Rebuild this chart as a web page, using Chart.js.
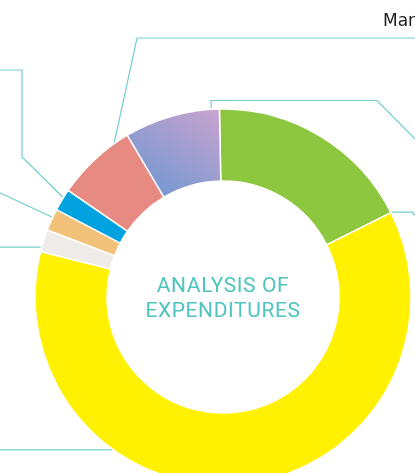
<!DOCTYPE html>
<html>
<head>
<meta charset="utf-8">
<script src="https://cdn.jsdelivr.net/npm/chart.js@4.4.7/dist/chart.umd.min.js"></script>
<style>
  html, body { margin: 0; padding: 0; background: #fff; overflow: hidden; }
  #wrap { position: relative; width: 415px; height: 473px; overflow: hidden; }
</style>
</head>
<body>
<div id="wrap"><canvas id="chart" width="415" height="473"></canvas></div>
<script>
const categories = ['Production', 'Operations', 'Other', 'Utilities', 'Logistics', 'Marketing', 'R&D'];
const values = [17.9, 61.3, 1.9, 1.9, 1.9, 6.9, 8.2];
const colors = ['#8dc63f', '#fff100', '#eeebe8', '#f2c27b', '#00a3df', '#e68a82', '#a79bcf'];
const centerLines = ['ANALYSIS OF', 'EXPENDITURES'];
const calloutText = 'Marketing';

// leader lines: segment index, position along the arc, then the elbow points
// (null = reuse the anchor coordinate)
const leaders = [
  { index: 5, t: 0.82, pts: [[137, 38], [420, 38]] },
  { index: 4, t: 0.62, pts: [[22, 157], [22, 70], [-2, 70]] },
  { index: 3, t: 0.61, pts: [[-2, 192]] },
  { index: 2, t: 0.19, pts: [[-2, null]] },
  { index: 1, t: 0.692, pts: [[-2, null]] },
  { index: 6, t: 0.915, pts: [[null, 100.5], [377, 100.5], [418, 142]] },
  { index: 0, t: 1.0, pts: [[412, null], [420, 220]] }
];

function purpleFill(c) {
  if (c.dataIndex !== 6) return colors[c.dataIndex];
  const area = c.chart.chartArea;
  if (!area) return colors[6];
  const cx = (area.left + area.right) / 2, cy = (area.top + area.bottom) / 2;
  const a1 = -Math.PI / 2 - 0.05, a2 = -Math.PI / 2 - 0.68;
  const g = c.chart.ctx.createLinearGradient(
    cx + Math.cos(a1) * 188, cy + Math.sin(a1) * 188,
    cx + Math.cos(a2) * 118, cy + Math.sin(a2) * 118);
  g.addColorStop(0, '#c6a3ce');
  g.addColorStop(1, '#6c97d2');
  return g;
}

const decorations = {
  id: 'decorations',
  afterDatasetsDraw(chart) {
    const ctx = chart.ctx;
    const meta = chart.getDatasetMeta(0);
    ctx.save();
    ctx.strokeStyle = '#72cfcb';
    ctx.lineWidth = 1.2;
    leaders.forEach(l => {
      const arc = meta.data[l.index];
      const p = arc.getProps(['x', 'y', 'startAngle', 'endAngle', 'outerRadius'], true);
      const a = p.startAngle + (p.endAngle - p.startAngle) * l.t;
      const r = p.outerRadius + 1;
      const ax = p.x + Math.cos(a) * r, ay = p.y + Math.sin(a) * r;
      ctx.beginPath();
      ctx.moveTo(ax, ay);
      l.pts.forEach(([px, py]) => ctx.lineTo(px === null ? ax : px, py === null ? ay : py));
      ctx.stroke();
    });

    const area = chart.chartArea;
    const cx = (area.left + area.right) / 2, cy = (area.top + area.bottom) / 2;
    ctx.fillStyle = '#4fc4bf';
    ctx.font = '21px Roboto';
    ctx.letterSpacing = '0.6px';
    ctx.textAlign = 'center';
    ctx.textBaseline = 'alphabetic';
    ctx.fillText(centerLines[0], cx, cy - 5.3);
    ctx.fillText(centerLines[1], cx, cy + 19.7);

    ctx.letterSpacing = '0px';
    ctx.fillStyle = '#1d1d1d';
    ctx.font = '17px "DejaVu Sans"';
    ctx.textAlign = 'left';
    ctx.fillText(calloutText, 383, 26);
    ctx.restore();
  }
};

new Chart(document.getElementById('chart'), {
  type: 'doughnut',
  data: {
    labels: categories,
    datasets: [{
      data: values,
      backgroundColor: purpleFill,
      borderColor: '#ffffff',
      borderWidth: 1.5,
      clip: false
    }]
  },
  options: {
    responsive: false,
    animation: false,
    rotation: -1.1,
    radius: 188,
    cutout: '61.7%',
    layout: { padding: { left: 31, right: 0, top: 121, bottom: 0 } },
    plugins: { legend: { display: false }, tooltip: { enabled: false } }
  },
  plugins: [decorations]
});
</script>
</body>
</html>
